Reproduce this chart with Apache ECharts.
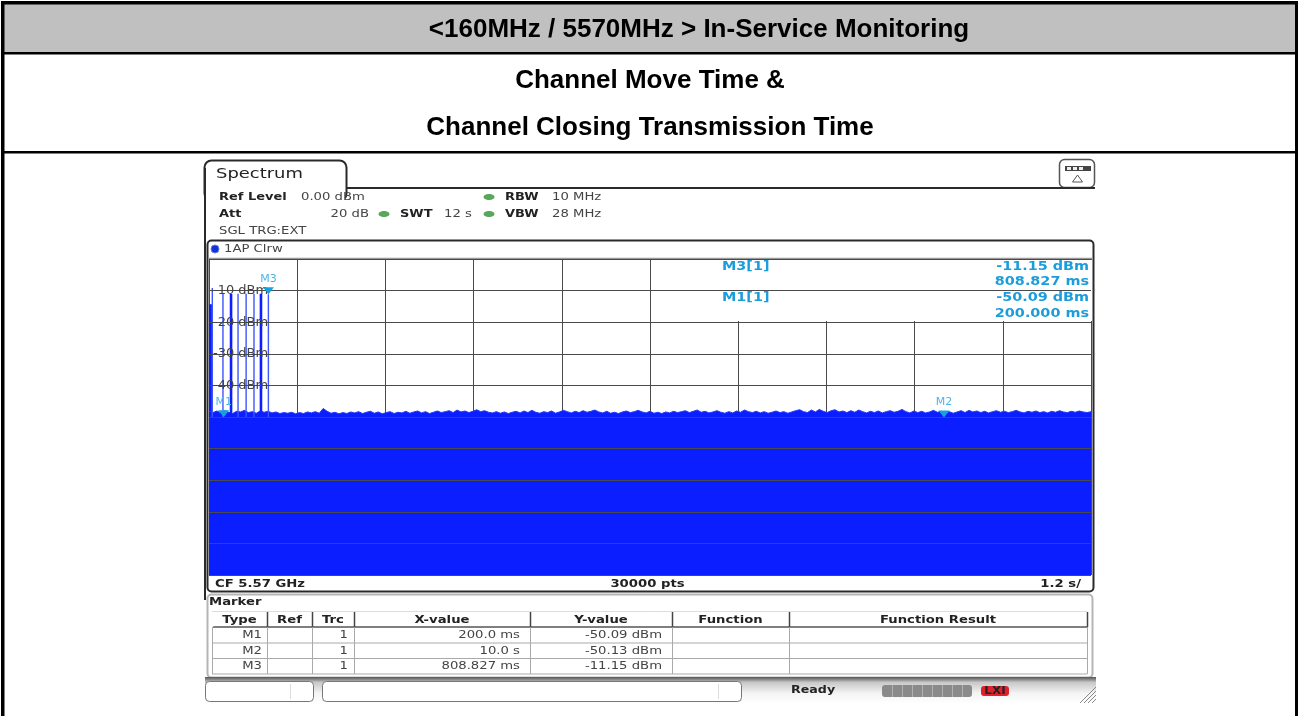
<!DOCTYPE html>
<html><head><meta charset="utf-8">
<style>html,body{margin:0;padding:0;background:#fff}#c{width:1298px;height:716px}</style>
<script src="https://cdn.jsdelivr.net/npm/echarts@6/dist/echarts.min.js"></script>
</head><body><div id="c"></div>
<script>
// ---- data ----
const sweepSeconds = 12;
const levelTicks = [-10, -20, -30, -40];
const noiseTop = [
-48.2,-48.6,-48.1,-48.7,-48.0,-48.5,-48.9,-48.2,-48.4,-47.9,-48.6,-48.3,-48.8,-48.1,-48.5,-48.2,-48.7,-48.4,-48.9,-48.6,
-48.8,-48.5,-49.0,-48.6,-48.9,-48.4,-48.7,-48.3,-48.8,-47.3,-48.2,-48.8,-48.5,-49.0,-48.6,-48.9,-48.4,-48.7,-48.3,-48.9,
-48.5,-48.2,-48.8,-48.4,-49.0,-48.6,-48.3,-48.9,-48.5,-48.7,-48.2,-48.8,-48.4,-48.1,-48.7,-48.3,-48.9,-48.5,-48.1,-48.6,
-48.3,-48.0,-48.6,-47.8,-48.4,-48.1,-48.6,-48.2,-47.7,-48.3,-48.0,-48.5,-48.7,-48.3,-48.8,-48.4,-48.9,-48.5,-48.2,-48.7,
-48.1,-48.6,-47.9,-48.5,-48.8,-48.3,-48.6,-48.1,-48.8,-48.4,-47.9,-48.3,-48.7,-48.2,-48.6,-48.0,-48.5,-48.2,-47.8,-48.4,
-48.7,-48.2,-48.8,-48.5,-48.9,-48.4,-48.1,-48.6,-48.3,-47.9,-48.4,-48.7,-48.2,-48.8,-48.5,-48.9,-48.4,-48.7,-48.2,-48.6,
-48.3,-48.0,-48.6,-48.2,-47.8,-48.5,-48.2,-48.7,-48.4,-48.0,-48.5,-48.8,-48.3,-48.7,-48.1,-48.5,-47.8,-48.3,-48.6,-48.2,
-48.7,-48.3,-48.8,-48.5,-48.1,-48.6,-48.3,-48.8,-48.4,-48.0,-47.7,-48.3,-48.6,-47.8,-48.4,-47.6,-48.2,-48.6,-48.0,-47.7,
-48.4,-48.1,-48.6,-48.0,-48.5,-47.8,-48.3,-48.7,-48.2,-48.6,-48.1,-48.7,-48.3,-48.0,-48.5,-48.2,-47.6,-48.3,-48.7,-48.1,
-48.6,-48.2,-48.7,-48.4,-47.9,-48.5,-48.2,-48.7,-48.3,-48.8,-48.4,-48.0,-48.6,-47.9,-48.4,-48.1,-48.6,-48.2,-48.7,-48.3,
-48.0,-48.5,-48.2,-48.6,-48.3,-47.9,-48.4,-48.7,-48.2,-48.5,-48.1,-48.6,-48.3,-48.7,-48.2,-48.5,-48.0,-48.4,-48.6,-48.2,
-48.5,-48.1,-48.4,-48.6,-48.3
];
const burstTimes = [0, 0.04];
const burstLevels = [-14.5, -14.5];
const thinSpikeTimes = [0.045, 0.19, 0.395, 0.505, 0.612, 0.808];
const thinSpikeTops = [-9.2, -11, -11, -11, -11, -11.15];
const thickSpikeTimes = [0.30, 0.707];
const thickSpikeTops = [-11, -11];
const markerNames = ['M1', 'M2', 'M3'];
const markerTimes = [0.2, 10.0, 0.808827];
const markerLevels = [-50.09, -50.13, -11.15];
const tableHeader = ['Type', 'Ref', 'Trc', 'X-value', 'Y-value', 'Function', 'Function Result'];
const tableTypes = ['M1', 'M2', 'M3'];
const tableTrc = ['1', '1', '1'];
const tableX = ['200.0 ms', '10.0 s', '808.827 ms'];
const tableY = ['-50.09 dBm', '-50.13 dBm', '-11.15 dBm'];

// ---- drawing helpers ----
const UI = 'DejaVu Sans', CY = '#1b9ddb', DK = '#2a2a2a', TX = '#333';
const g = [];
const txt = (x, y, text, o = {}) => g.push({
  type: 'text', x, y, scaleX: o.sx === undefined ? 1.2 : o.sx, z: o.z || 5, silent: true,
  style: { text, fill: o.c || TX, align: o.a || 'left', verticalAlign: 'middle',
    font: (o.b ? 'bold ' : '') + (o.s || 12) + 'px ' + (o.f || UI) }
});
const rect = (x, y, w, h, fill, o = {}) => g.push({
  type: 'rect', z: o.z === undefined ? 0 : o.z, silent: true,
  shape: { x, y, width: w, height: h, r: o.r || 0 },
  style: { fill, stroke: o.st || null, lineWidth: o.lw || 1 }
});
const ln = (x1, y1, x2, y2, c, w) => g.push({
  type: 'line', z: 1, silent: true, shape: { x1, y1, x2, y2 }, style: { stroke: c || DK, lineWidth: w || 1 }
});
const path = (d, st, lw, fill) => g.push({
  type: 'path', z: 1, silent: true, shape: { pathData: d, layout: 'cover', x: 0, y: 0, width: 1298, height: 716 }
});

// page frame
rect(4, 4, 1291, 48, '#c0c0c0');
rect(1, 1, 1297, 3.5, '#000');
rect(1, 1, 3.5, 715, '#000');
rect(1295, 1, 3, 715, '#000');
rect(1, 52, 1297, 2.5, '#000');
rect(1, 151, 1297, 2.5, '#000');
const H = 'Liberation Sans';
txt(699, 30, '<160MHz / 5570MHz > In-Service Monitoring', { a: 'center', b: 1, s: 26, f: H, c: '#000', sx: 1 });
txt(650, 81, 'Channel Move Time &', { a: 'center', b: 1, s: 26, f: H, c: '#000', sx: 1 });
txt(650, 128, 'Channel Closing Transmission Time', { a: 'center', b: 1, s: 26, f: H, c: '#000', sx: 1 });

// tab
rect(204.5, 160.5, 142, 40, '#fff', { st: DK, lw: 2, r: 7 });
rect(206, 187, 139, 16, '#fff');
ln(346, 188, 1095, 188, DK, 2);
ln(205, 168, 205, 600, DK, 2);
txt(216, 174, 'Spectrum', { s: 14, sx: 1.28, c: '#222' });

// settings
txt(219, 197, 'Ref Level', { b: 1, s: 11, sx: 1.18, c: '#222' });
txt(301, 197, '0.00 dBm', { s: 11, sx: 1.2, c: '#444' });
txt(505, 197, 'RBW', { b: 1, s: 11, sx: 1.18, c: '#222' });
txt(552, 197, '10 MHz', { s: 11, sx: 1.2, c: '#444' });
txt(219, 214, 'Att', { b: 1, s: 11, sx: 1.18, c: '#222' });
txt(369, 214, '20 dB', { s: 11, sx: 1.2, a: 'right', c: '#444' });
txt(400, 214, 'SWT', { b: 1, s: 11, sx: 1.18, c: '#222' });
txt(444, 214, '12 s', { s: 11, sx: 1.2, c: '#444' });
txt(505, 214, 'VBW', { b: 1, s: 11, sx: 1.18, c: '#222' });
txt(552, 214, '28 MHz', { s: 11, sx: 1.2, c: '#444' });
txt(219, 231, 'SGL TRG:EXT', { s: 11, sx: 1.2, c: '#444' });
[[489, 197], [384, 214], [489, 214]].forEach(p => g.push({
  type: 'ellipse', z: 1, silent: true, shape: { cx: p[0], cy: p[1], rx: 5.5, ry: 3 }, style: { fill: '#58a85c' }
}));

// mode icon
rect(1059.5, 159.5, 35, 28, '#fff', { st: '#555', lw: 1.5, r: 5 });
rect(1065, 166, 26, 5, '#444');
[1067, 1073, 1079].forEach(x => rect(x, 167, 4, 3, '#eee', { z: 1 }));
g.push({ type: 'polygon', z: 1, silent: true, shape: { points: [[1077.5, 175], [1072.5, 182], [1082.5, 182]] },
  style: { fill: '#fff', stroke: '#555', lineWidth: 1 } });

// trace panel
rect(207.5, 240.5, 886, 351, '#fff', { st: DK, lw: 2, r: 4 });
ln(208, 258.5, 1093, 258.5, '#999', 1.5);
g.push({ type: 'circle', z: 1, silent: true, shape: { cx: 215, cy: 249, r: 4 }, style: { fill: '#1432d8', stroke: '#6a7de0' } });
txt(224, 249, '1AP Clrw', { s: 11, sx: 1.2, c: '#444' });
txt(215, 584, 'CF 5.57 GHz', { b: 1, s: 11, sx: 1.2, c: '#222' });
txt(647.5, 584, '30000 pts', { b: 1, s: 11, sx: 1.2, a: 'center', c: '#222' });
txt(1081, 584, '1.2 s/', { b: 1, s: 11, sx: 1.2, a: 'right', c: '#222' });

// masks over the grid (below the series)
rect(210, 262, 62, 140, '#fff', { z: 1 });
rect(721, 260, 371, 61, '#fff', { z: 1 });
txt(722, 267, 'M3[1]', { b: 1, c: CY });
txt(722, 298, 'M1[1]', { b: 1, c: CY });
txt(1089, 267, '-11.15 dBm', { b: 1, c: CY, a: 'right' });
txt(1089, 282, '808.827 ms', { b: 1, c: CY, a: 'right' });
txt(1089, 298, '-50.09 dBm', { b: 1, c: CY, a: 'right' });
txt(1089, 314, '200.000 ms', { b: 1, c: CY, a: 'right' });

// marker table
rect(207.5, 594.5, 885, 83, '#fff', { st: '#b5b5b5', lw: 2, r: 4 });
txt(209, 602, 'Marker', { b: 1, s: 11, sx: 1.2, c: '#222' });
const colX = [212, 267, 312, 354, 530, 672, 789, 1087];
const rowY = [627, 643, 658, 674];
ln(212, 611.5, 1087, 611.5, '#ddd', 1);
ln(212, 627, 1087, 627, '#555', 1.5);
ln(212, 643, 1087, 643, '#aaa', 1);
ln(212, 658.5, 1087, 658.5, '#aaa', 1);
ln(212, 674, 1087, 674, '#aaa', 1);
colX.forEach((x, i) => {
  ln(x + 0.5, 612, x + 0.5, 627, i === 0 ? '#fff' : '#444', 1.5);
  ln(x + 0.5, 627, x + 0.5, 674, '#aaa', 1);
});
tableHeader.forEach((t, i) => txt((colX[i] + colX[i + 1]) / 2, 620, t, { b: 1, s: 11, sx: 1.2, a: 'center', c: '#222' }));
tableTypes.forEach((t, i) => {
  const y = [635, 651, 666][i];
  txt(262, y, t, { s: 11, sx: 1.2, a: 'right', c: '#444' });
  txt(348, y, tableTrc[i], { s: 11, sx: 1.2, a: 'right', c: '#444' });
  txt(520, y, tableX[i], { s: 11, sx: 1.2, a: 'right', c: '#444' });
  txt(662, y, tableY[i], { s: 11, sx: 1.2, a: 'right', c: '#444' });
});

// status bar
g.push({ type: 'rect', z: 0, silent: true, shape: { x: 205, y: 677, width: 891, height: 27 },
  style: { fill: { type: 'linear', x: 0, y: 0, x2: 0, y2: 1, colorStops: [
    { offset: 0, color: '#555' }, { offset: 0.2, color: '#c8c8c8' }, { offset: 0.6, color: '#f4f4f4' }, { offset: 1, color: '#fff' }] } } });
rect(205.5, 681.5, 108, 20, '#fff', { st: '#777', r: 4 });
rect(322.5, 681.5, 419, 20, '#fff', { st: '#777', r: 4 });
ln(290.5, 684, 290.5, 699, '#ddd', 1);
ln(718.5, 684, 718.5, 699, '#ddd', 1);
txt(791, 690, 'Ready', { b: 1, s: 11, sx: 1.15, c: '#222' });
rect(882, 685, 90, 12, '#8a8a8a', { r: 3, z: 1 });
[892, 902, 912, 922, 932, 942, 952, 962].forEach(x => ln(x + 0.5, 685, x + 0.5, 697, '#b0b0b0', 1));
rect(981, 686, 28, 10, '#e0202c', { r: 3, z: 1 });
txt(995, 691, 'LXI', { b: 1, s: 10, sx: 1.2, a: 'center', c: '#222', f: 'DejaVu Sans' });
[0, 4, 8, 12, 16].forEach(d => ln(1096 - d * 0 - (16 - d), 703 - 0, 1096, 703 - (16 - d), '#888', 1));

// ---- series, all through the axes ----
const seq = (times, tops, base) => {
  const out = [];
  times.forEach((t, i) => { out.push([t, base], [t, tops[i]], [null, null]); });
  return out;
};
const noise = noiseTop.map((v, i) => [(i * sweepSeconds) / (noiseTop.length - 1), v]);
const markers = markerNames.map((n, i) => ({ name: n, value: [markerTimes[i], markerLevels[i]] }));

const chart = echarts.init(document.getElementById('c'));
chart.setOption({
  animation: false,
  backgroundColor: '#fff',
  grid: { left: 209, right: 207, top: 259, bottom: 141 },
  xAxis: {
    type: 'value', min: 0, max: sweepSeconds, interval: 1.2,
    axisLine: { show: false }, axisTick: { show: false }, axisLabel: { show: false },
    splitLine: { show: true, lineStyle: { color: '#4a4a4a', width: 1 } }
  },
  yAxis: {
    type: 'value', min: -100, max: 0, interval: 10, z: 3,
    axisLine: { show: false }, axisTick: { show: false },
    axisLabel: {
      inside: true, margin: 4, color: '#444', fontFamily: UI, fontSize: 13,
      formatter: v => levelTicks.includes(v) ? v + ' dBm' : ''
    },
    splitLine: { show: true, lineStyle: { color: '#4a4a4a', width: 1 } }
  },
  graphic: { elements: g },
  series: [
    { name: 'Trace', type: 'line', data: noise, symbol: 'none', sampling: false, z: 2,
      lineStyle: { color: '#2038ff', width: 1 }, areaStyle: { color: '#0a1eff', opacity: 1, origin: 'start' } },
    { name: 'Burst', type: 'line', data: burstTimes.map((t, i) => [t, burstLevels[i]]), symbol: 'none', z: 2,
      lineStyle: { color: '#0a1eff', width: 1 }, areaStyle: { color: '#0a1eff', opacity: 1, origin: 'start' } },
    { name: 'Bursts thin', type: 'line', data: seq(thinSpikeTimes, thinSpikeTops, -50), symbol: 'none', connectNulls: false, z: 2,
      lineStyle: { color: '#3c55ff', width: 1.4 } },
    { name: 'Bursts wide', type: 'line', data: seq(thickSpikeTimes, thickSpikeTops, -50), symbol: 'none', connectNulls: false, z: 2,
      lineStyle: { color: '#0a1eff', width: 2.6 } },
    { name: 'Markers', type: 'scatter', data: markers, z: 6,
      symbol: 'triangle', symbolRotate: 180, symbolSize: [11, 7], symbolOffset: [0, -3.5],
      itemStyle: { color: '#17a0dc', opacity: 1 },
      label: { show: true, formatter: p => p.name, position: 'top', distance: 3, offset: [0, 0],
        color: '#4cb6ea', fontFamily: UI, fontSize: 11 } }
  ]
});
</script></body></html>
